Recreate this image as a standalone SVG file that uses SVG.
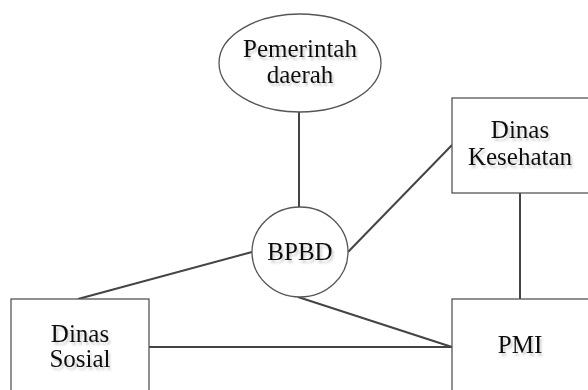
<svg xmlns="http://www.w3.org/2000/svg" width="588" height="390" viewBox="0 0 588 390">
<defs>
<filter id="sh" x="-10%" y="-10%" width="130%" height="140%">
<feDropShadow dx="2" dy="3" stdDeviation="0.8" flood-color="#000" flood-opacity="0.18"/>
</filter>
</defs>
<style>
.shape{fill:#fff;stroke:#555;stroke-width:1.3}
.lbl{font-family:"Liberation Serif","Times New Roman",serif;font-size:25px;fill:#111;text-anchor:middle;filter:url(#sh)}
.conn line{stroke:#444;stroke-width:2}
</style>
<rect width="588" height="390" fill="#fff"/>
<g id="connectors" class="conn">
<line x1="299" y1="112" x2="299" y2="208"/>
<line x1="348" y1="252" x2="452" y2="145"/>
<line x1="252" y1="252" x2="78" y2="299"/>
<line x1="298" y1="297" x2="452" y2="347"/>
<line x1="149" y1="347" x2="452" y2="347"/>
<line x1="520" y1="193" x2="520" y2="299"/>
</g>
<g id="pemerintah">
<ellipse class="shape" cx="300" cy="63" rx="81" ry="49"/>
<text class="lbl" x="300" y="57">Pemerintah</text>
<text class="lbl" x="300" y="83">daerah</text>
</g>
<g id="bpbd">
<ellipse class="shape" cx="300" cy="252" rx="48" ry="45"/>
<text class="lbl" x="300" y="260">BPBD</text>
</g>
<g id="dinas-kesehatan">
<rect class="shape" x="452" y="98" width="150" height="95"/>
<text class="lbl" x="520" y="138">Dinas</text>
<text class="lbl" x="520" y="165">Kesehatan</text>
</g>
<g id="dinas-sosial">
<rect class="shape" x="11" y="299" width="138" height="110"/>
<text class="lbl" x="80" y="342">Dinas</text>
<text class="lbl" x="80" y="367">Sosial</text>
</g>
<g id="pmi">
<rect class="shape" x="452" y="299" width="150" height="110"/>
<text class="lbl" x="520" y="353">PMI</text>
</g>
</svg>
